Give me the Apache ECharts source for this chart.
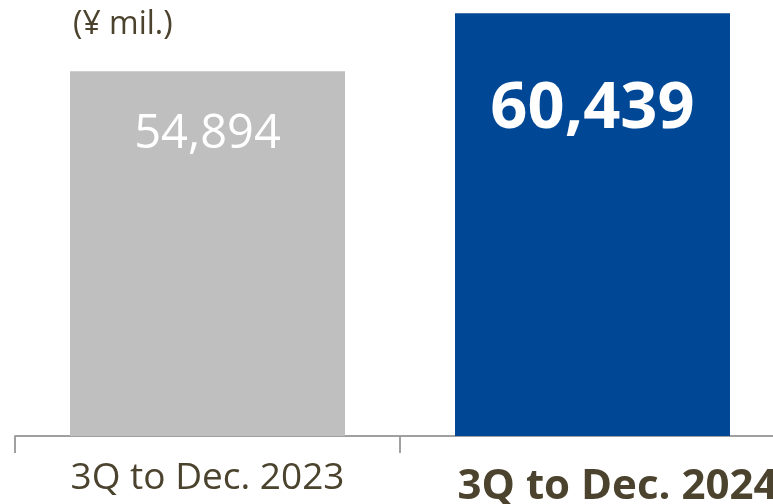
<!DOCTYPE html>
<html>
<head>
<meta charset="utf-8">
<script src="https://cdn.jsdelivr.net/npm/echarts@6/dist/echarts.min.js"></script>
<style>
	html, body { margin: 0; padding: 0; background: #fff; }
	#chart { width: 773px; height: 504px; }
</style>
</head>
<body>
<div id="chart"></div>
<script>
const categories = ['3Q to Dec. 2023', '3Q to Dec. 2024']
const values = [54894, 60439]
const barColors = ['#bfbfbf', '#004896']
const unitLabel = '(¥ mil.)'

const myChart = echarts.init(document.getElementById('chart'))

const textColor = '#4b432e'
const font = '"Open Sans", sans-serif'

const seriesData = values.map((v, i) => ({
	value: v,
	itemStyle: { color: barColors[i] },
	label: i === 0
		? { fontSize: 47, fontWeight: 'normal', distance: 40 }
		: { fontSize: 65, fontWeight: 'bold', distance: 64 },
}))

const option = {
	animation: false,
	title: {
		text: unitLabel,
		left: 68,
		top: 4,
		textStyle: { color: textColor, fontSize: 32, fontWeight: 'normal', fontFamily: font },
	},
	grid: {
		left: 15,
		width: 770,
		top: 0,
		bottom: 68,
		containLabel: false,
		outerBoundsMode: 'none',
	},
	xAxis: {
		type: 'category',
		data: categories,
		axisLine: { lineStyle: { color: '#a0a0a0', width: 2 } },
		axisTick: { show: true, length: 17, lineStyle: { color: '#a0a0a0', width: 2 } },
		axisLabel: {
			margin: 24,
			formatter: (val, idx) => (idx === 0 ? '{a|' + val + '}' : '{b|' + val + '}'),
			rich: {
				a: { fontSize: 37, color: textColor, fontFamily: font },
				b: { fontSize: 42, fontWeight: 'bold', color: textColor, fontFamily: font, padding: [6, 0, 0, 50] },
			},
		},
	},
	yAxis: {
		type: 'value',
		min: 20000,
		max: 61700,
		show: false,
		splitLine: { show: false },
	},
	series: [
		{
			type: 'bar',
			data: seriesData,
			barWidth: 275,
			label: {
				show: true,
				position: 'insideTop',
				color: '#ffffff',
				fontFamily: font,
				formatter: (p) => p.value.toLocaleString('en-US'),
			},
		},
	],
}

myChart.setOption(option)
window.addEventListener('resize', () => {
	myChart.resize()
})
</script>
</body>
</html>
